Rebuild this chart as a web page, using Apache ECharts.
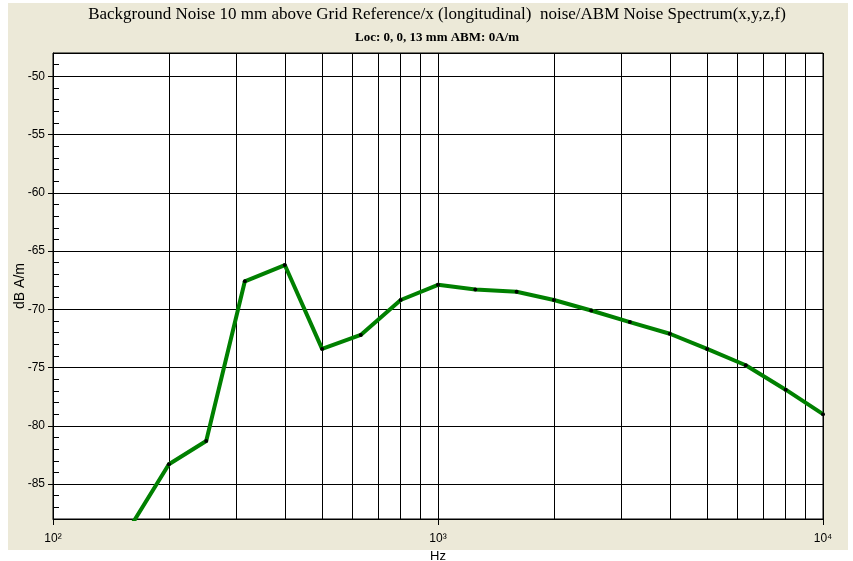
<!DOCTYPE html>
<html>
<head>
<meta charset="utf-8">
<script src="https://cdn.jsdelivr.net/npm/echarts@6/dist/echarts.min.js"></script>
<style>
  html, body { margin: 0; padding: 0; background: #fff; }
  #chart { width: 853px; height: 561px; }
</style>
</head>
<body>
<div id="chart"></div>
<script>
// 1/3 octave band centres (Hz) and measured level (dB A/m)
var freqs = [160, 200, 250, 315, 400, 500, 630, 800, 1000, 1250, 1600, 2000, 2500, 3150, 4000, 5000, 6300, 8000, 10000];
var levels = [-88.5, -83.3, -81.3, -67.6, -66.2, -73.4, -72.2, -69.2, -67.9, -68.3, -68.5, -69.2, -70.1, -71.1, -72.1, -73.4, -74.8, -76.9, -79.0];
// vertical grid lines inside each decade
var minorFreqs = [200, 300, 400, 500, 600, 700, 800, 900, 2000, 3000, 4000, 5000, 6000, 7000, 8000, 9000];
var titleText = 'Background Noise 10 mm above Grid Reference/x (longitudinal)  noise/ABM Noise Spectrum(x,y,z,f)';
var subText = 'Loc: 0, 0, 13 mm ABM: 0A/m';

var chart = echarts.init(document.getElementById('chart'));
var sup = { 2: '\u00b2', 3: '\u00b3', 4: '\u2074' };
var labelFont = 'Liberation Sans, Arial, sans-serif';

var option = {
  backgroundColor: '#fff',
  animation: false,
  graphic: [
    { type: 'rect', z: -100, silent: true, shape: { x: 8, y: 3, width: 840, height: 547 }, style: { fill: '#ECE9D8' } },
    { type: 'text', x: 437, y: 15, style: { text: titleText, fill: '#000', font: '17px "Liberation Serif", serif', textAlign: 'center', textVerticalAlign: 'middle' } },
    { type: 'text', x: 437, y: 38, style: { text: subText, fill: '#000', font: 'bold 13px "Liberation Serif", serif', textAlign: 'center', textVerticalAlign: 'middle' } }
  ],
  grid: {
    left: 53, right: 30, top: 53, bottom: 42,
    outerBoundsMode: 'none',
    show: true, backgroundColor: '#fff', borderColor: '#000', borderWidth: 1
  },
  xAxis: {
    type: 'log', logBase: 10, min: 100, max: 10000,
    name: 'Hz', nameLocation: 'middle', nameGap: 31, nameMoveOverlap: false,
    nameTextStyle: { color: '#000', fontSize: 13, fontFamily: labelFont },
    axisLine: { lineStyle: { color: '#000', width: 1 } },
    axisTick: { show: true, length: 6, lineStyle: { color: '#000' } },
    axisLabel: {
      margin: 14, color: '#000', fontSize: 12, fontFamily: labelFont,
      formatter: function (v) { return '10' + sup[Math.round(Math.log10(v))]; }
    },
    splitLine: { show: true, lineStyle: { color: '#000', width: 1 } }
  },
  yAxis: [{
    type: 'value', min: -88, max: -48, splitNumber: 8, minInterval: 5, maxInterval: 5,
    name: 'dB A/m', nameLocation: 'middle', nameGap: 26, nameRotate: 90, nameMoveOverlap: false,
    nameTextStyle: { color: '#000', fontSize: 14, fontFamily: labelFont },
    axisLine: { show: true, lineStyle: { color: '#000', width: 1 } },
    axisTick: { show: true, length: 5, lineStyle: { color: '#000' } },
    axisLabel: { margin: 8, color: '#000', fontSize: 12, fontFamily: labelFont, showMinLabel: false, showMaxLabel: false },
    splitLine: { show: true, lineStyle: { color: '#000', width: 1 } }
  }, {
    // overlay axis that only draws the 1 dB ticks pointing into the plot
    type: 'value', min: -88, max: -48, interval: 1, position: 'left', offset: 0,
    axisLine: { show: false },
    axisTick: { show: true, inside: true, length: 6, lineStyle: { color: '#000' } },
    axisLabel: { show: false },
    splitLine: { show: false }
  }],
  series: [{
    type: 'line',
    yAxisIndex: 0,
    data: freqs.map(function (f, i) { return [f, levels[i]]; }),
    symbol: 'circle', symbolSize: 4,
    itemStyle: { color: '#000', borderWidth: 0 },
    lineStyle: { color: '#008000', width: 4 },
    z: 5,
    markLine: {
      silent: true, symbol: 'none', z: 1,
      label: { show: false },
      lineStyle: { color: '#000', width: 1, type: 'solid' },
      data: minorFreqs.map(function (f) { return { xAxis: f }; })
    }
  }]
};
chart.setOption(option);
</script>
</body>
</html>
